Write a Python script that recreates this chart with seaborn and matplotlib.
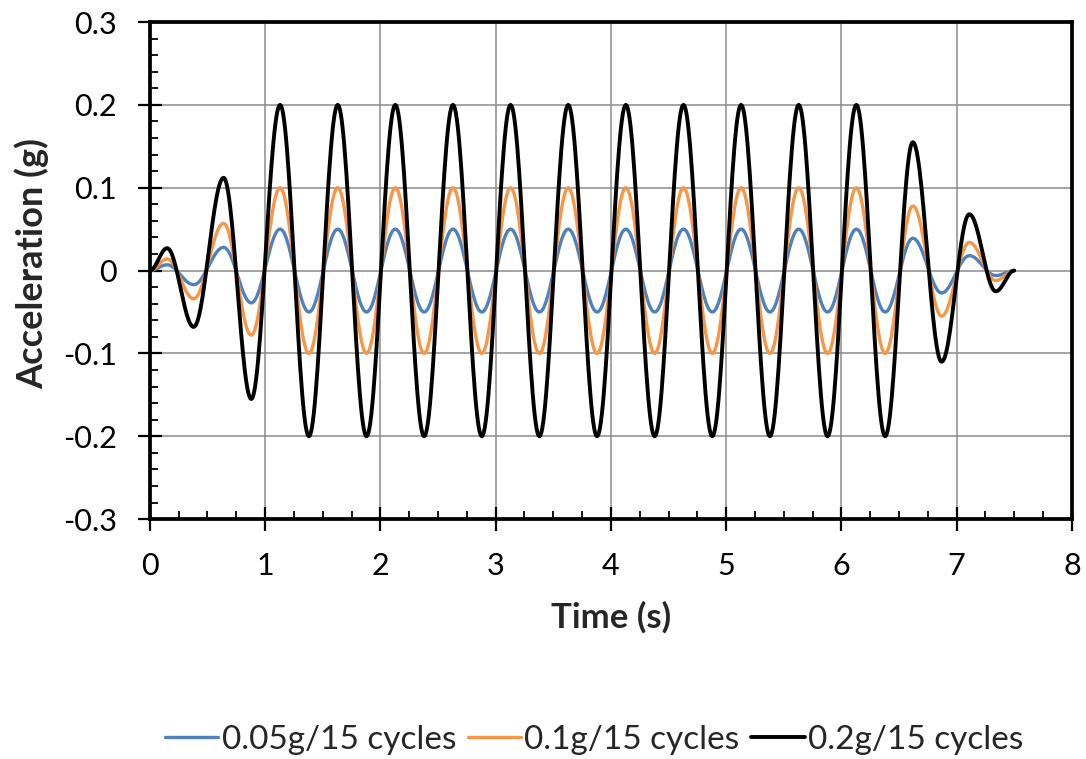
import numpy as np
import pandas as pd
import matplotlib
matplotlib.use("Agg")
import matplotlib.pyplot as plt
from matplotlib.ticker import MultipleLocator
import seaborn as sns

# peak / trough times (s), shared by the three records
times = [0.0, 0.15, 0.38, 0.64, 0.88,
         1.13, 1.38, 1.63, 1.88, 2.13, 2.38, 2.63, 2.88, 3.13, 3.38, 3.63,
         3.88, 4.13, 4.38, 4.63, 4.88, 5.13, 5.38, 5.63, 5.88, 6.13, 6.38,
         6.62, 6.87, 7.11, 7.34, 7.50]

# accelerations (g) at those times
acc_005 = [0.0, 0.007, -0.017, 0.028, -0.039,
           0.05, -0.05, 0.05, -0.05, 0.05, -0.05, 0.05, -0.05, 0.05, -0.05, 0.05,
           -0.05, 0.05, -0.05, 0.05, -0.05, 0.05, -0.05, 0.05, -0.05, 0.05, -0.05,
           0.039, -0.027, 0.018, -0.006, 0.0]
acc_01 = [0.0, 0.014, -0.034, 0.057, -0.078,
          0.10, -0.10, 0.10, -0.10, 0.10, -0.10, 0.10, -0.10, 0.10, -0.10, 0.10,
          -0.10, 0.10, -0.10, 0.10, -0.10, 0.10, -0.10, 0.10, -0.10, 0.10, -0.10,
          0.078, -0.055, 0.034, -0.012, 0.0]
acc_02 = [0.0, 0.027, -0.068, 0.112, -0.155,
          0.20, -0.20, 0.20, -0.20, 0.20, -0.20, 0.20, -0.20, 0.20, -0.20, 0.20,
          -0.20, 0.20, -0.20, 0.20, -0.20, 0.20, -0.20, 0.20, -0.20, 0.20, -0.20,
          0.155, -0.110, 0.068, -0.025, 0.0]

labels = ["0.05g/15 cycles", "0.1g/15 cycles", "0.2g/15 cycles"]
colors = ["#4F81BD", "#F79646", "#000000"]
widths = [2.4, 2.4, 2.8]


def smooth_path(t, v, n=30):
    """Smoothed line through the read extrema (like Excel's smoothed line)."""
    ts, vs = [], []
    for i in range(len(t) - 1):
        s = np.linspace(0, 1, n, endpoint=False)
        ts.append(t[i] + (t[i + 1] - t[i]) * s)
        vs.append(v[i] + (v[i + 1] - v[i]) * (1 - np.cos(np.pi * s)) / 2)
    ts.append([t[-1]])
    vs.append([v[-1]])
    return np.concatenate(ts), np.concatenate(vs)


frames = []
for lab, vals in zip(labels, [acc_005, acc_01, acc_02]):
    tt, vv = smooth_path(times, vals)
    frames.append(pd.DataFrame({"Time": tt, "Acc": vv, "Record": lab}))
df = pd.concat(frames, ignore_index=True)

sns.set_style("white")
plt.rcParams["font.family"] = ["Lato", "DejaVu Sans"]

fig = plt.figure(figsize=(10.86, 7.59), dpi=100)
ax = fig.add_axes([0.138, 0.316, 0.849, 0.655])

sns.lineplot(data=df, x="Time", y="Acc", hue="Record", palette=colors,
             estimator=None, sort=False, linewidth=2.4, ax=ax, legend=True)
for line, lw in zip(ax.get_lines()[:3], widths):
    line.set_linewidth(lw)

ax.set_xlim(0, 8)
ax.set_ylim(-0.3, 0.3)
ax.xaxis.set_major_locator(MultipleLocator(1))
ax.xaxis.set_minor_locator(MultipleLocator(0.25))
ax.yaxis.set_minor_locator(MultipleLocator(0.02))
ax.set_yticks(np.round(np.arange(-0.3, 0.31, 0.1), 1))
ax.set_yticklabels(["-0.3", "-0.2", "-0.1", "0", "0.1", "0.2", "0.3"])

ax.grid(True, which="major", color="#8c8c8c", linewidth=1.1)
ax.set_axisbelow(True)
for sp in ax.spines.values():
    sp.set_visible(True)
    sp.set_color("black")
    sp.set_linewidth(2.7)

ax.tick_params(which="major", direction="inout", length=17, width=1.6,
               labelsize=22, colors="black", pad=15)
ax.tick_params(which="minor", direction="in", length=6, width=1.3,
               colors="black")
ax.tick_params(axis="x", which="both", bottom=True, top=False)
ax.tick_params(axis="y", which="both", left=True, right=False)

ax.set_xlabel("Time (s)", fontsize=25, fontweight="bold", va="center")
ax.set_ylabel("Acceleration (g)", fontsize=26, fontweight="bold", va="center")
ax.xaxis.set_label_coords(0.5, -0.198)
ax.yaxis.set_label_coords(-0.128, 0.515)

handles, labs = ax.get_legend_handles_labels()
for h, lw in zip(handles, widths):
    h.set_linewidth(lw)
ax.get_legend().remove()
fig.legend(handles, labs, loc="center", bbox_to_anchor=(0.547, 0.025),
           ncol=3, frameon=False, fontsize=24, handlelength=1.6,
           handletextpad=0.1, columnspacing=0.35)

fig.savefig("out.png", dpi=100)
